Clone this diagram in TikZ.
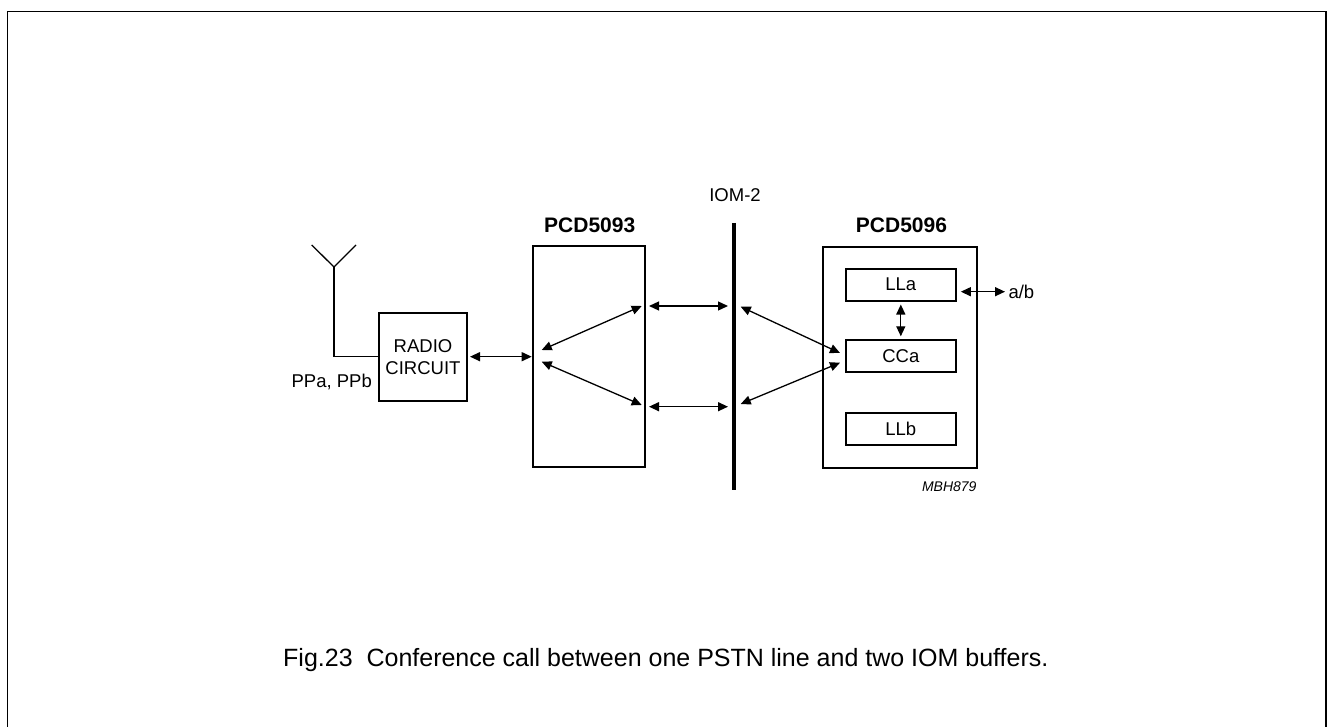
\documentclass[tikz,border=0pt]{standalone}
\usepackage{fontspec}
\setmainfont{Liberation Sans}
\usetikzlibrary{arrows.meta}
\begin{document}
\begin{tikzpicture}[x=1pt,y=-1pt,
  boxnode/.style={draw,line width=2pt,inner sep=0pt,font=\fontsize{18.5}{21.7}\selectfont,align=center},
  lbl/.style={inner sep=0pt,font=\fontsize{18.5}{21.7}\selectfont},
  ttl/.style={inner sep=0pt,font=\fontsize{21}{24}\selectfont\bfseries,anchor=base},
  dbl/.style={line width=1.3pt,{Triangle[length=10pt,width=9pt]}-{Triangle[length=10pt,width=9pt]}},
  thin/.style={line width=1.3pt}]
\useasboundingbox (0,0) rectangle (1329,727);
% frame
\draw[line width=1.5pt] (7.5,740) -- (7.5,11.7) -- (1326,11.7) -- (1326,740);

% boxes
\node[boxnode,minimum width=88pt,minimum height=88pt] (radio) at (423,357) {RADIO\\CIRCUIT};
\node[boxnode,minimum width=112pt,minimum height=221pt] (p5093) at (589,356.5) {};
\node[boxnode,minimum width=154pt,minimum height=221pt] (p5096) at (900,357) {};
\node[boxnode,minimum width=110pt,minimum height=32pt] (lla) at (900.8,284.5) {LLa};
\node[boxnode,minimum width=110pt,minimum height=32pt] (cca) at (900.8,356.3) {CCa};
\node[boxnode,minimum width=110pt,minimum height=32pt] (llb) at (900.8,428.7) {LLb};

% titles and labels
\node[ttl] (t5093) at (589.7,232.3) {PCD5093};
\node[ttl] (t5096) at (901.5,232.3) {PCD5096};
\node[lbl,anchor=base] (iom) at (735,201.7) {IOM-2};
\node[lbl,anchor=base] (pp) at (331.7,387.3) {PPa, PPb};
\node[lbl,anchor=base west] (ab) at (1008.3,298.3) {a/b};
\node[inner sep=0pt,anchor=base east,font=\fontsize{14}{16}\selectfont\itshape] (mbh) at (976.7,491.7) {MBH879};
\node[inner sep=0pt,anchor=base west,font=\fontsize{25}{30}\selectfont] (cap) at (283,666.7) {Fig.23\ \ Conference call between one PSTN line and two IOM buffers.};

% antenna
\coordinate (antl) at (311.7,245);
\coordinate (antr) at (356,245);
\coordinate (antv) at (334,267);
\coordinate (antb) at (334,356.7);
\draw[thin] (antl) -- (antv) -- (antr);
\draw[thin] (antv) -- (antb) -- (antb -| radio.west);

% IOM bar
\coordinate (bart) at (734,223);
\coordinate (barb) at (734,490);
\draw[line width=4pt] (bart) -- (barb);

% arrow end points
\coordinate (r2) at (531.7,356.7);
\coordinate (a1) at (541.7,350);
\coordinate (a2) at (641.7,306);
\coordinate (b1) at (541.7,361.7);
\coordinate (b2) at (641.7,405);
\coordinate (h1l) at (649,306);
\coordinate (h1r) at (728,306);
\coordinate (h2l) at (649,406.7);
\coordinate (h2r) at (728,406.7);
\coordinate (d1l) at (740.7,306.7);
\coordinate (d1r) at (840,353);
\coordinate (d2l) at (740.7,404);
\coordinate (d2r) at (840,362.7);
\coordinate (abe) at (1005,291.7);

% arrows
\draw[dbl,shorten <=2pt] (radio.east |- r2) -- (r2);
\draw[dbl] (a1) -- (a2);
\draw[dbl] (b1) -- (b2);
\draw[dbl] (h1l) -- (h1r);
\draw[dbl] (h2l) -- (h2r);
\draw[dbl] (d1l) -- (d1r);
\draw[dbl] (d2l) -- (d2r);
\draw[dbl,shorten <=3pt,shorten >=3pt] (lla.south) -- (cca.north);
\draw[dbl,shorten <=4pt] (lla.east |- abe) -- (abe);
\end{tikzpicture}
\end{document}
